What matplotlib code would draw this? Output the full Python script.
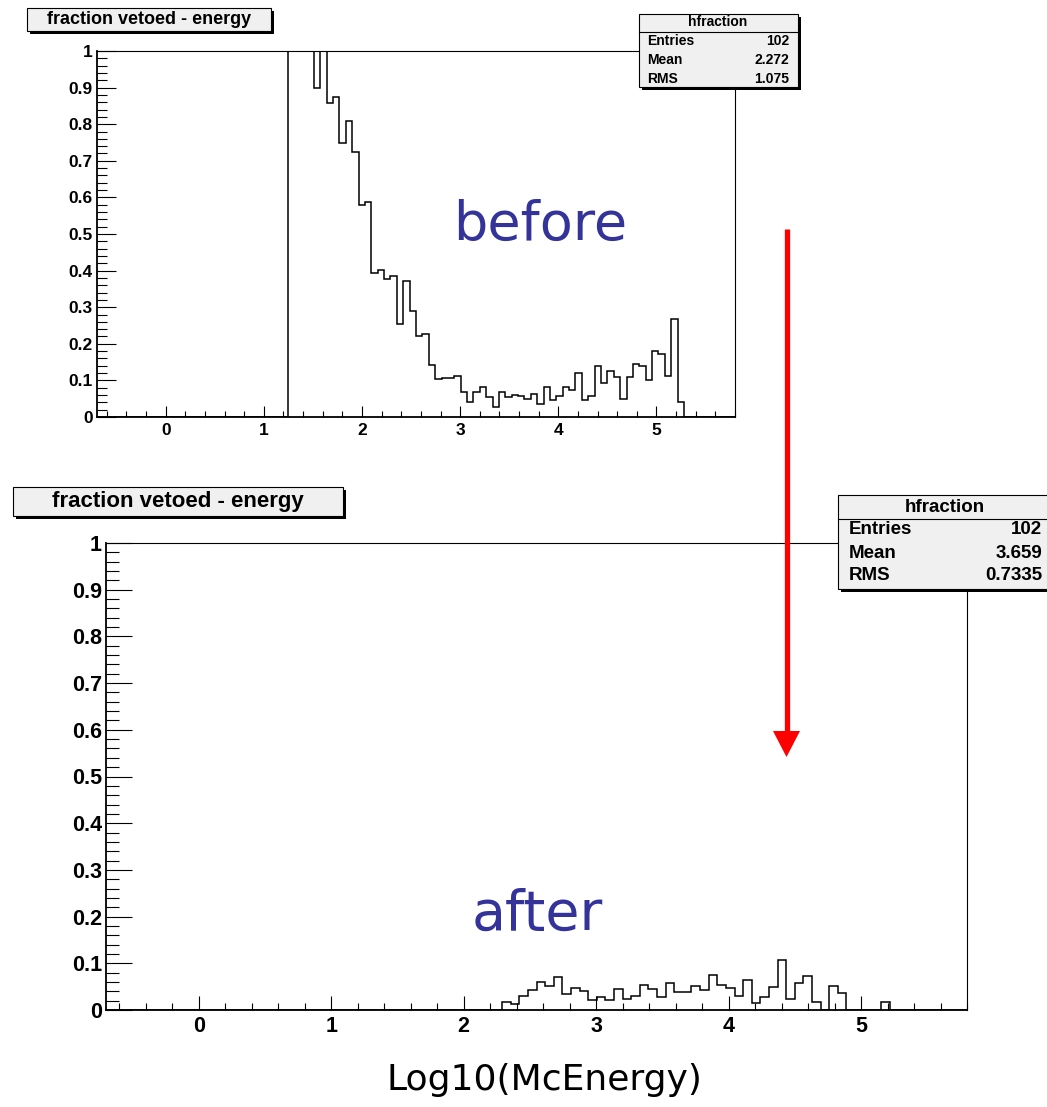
import numpy as np
import matplotlib
matplotlib.use("Agg")
import matplotlib.pyplot as plt
from matplotlib.patches import Rectangle, Polygon

# histogram binning (ROOT style: 100 bins from -0.7 to 5.8)
nbins = 100
xmin, xmax = -0.7, 5.8

# "before" histogram, first filled bin and the bin contents that follow
before_start = 30
before_vals = [1.0, 1.0, 1.0, 1.0, 0.90, 1.0, 0.859, 0.874, 0.750, 0.808,
               0.724, 0.580, 0.588, 0.394, 0.403, 0.376, 0.385, 0.253, 0.371, 0.290,
               0.222, 0.226, 0.141, 0.104, 0.106, 0.106, 0.113, 0.067, 0.040, 0.067,
               0.081, 0.054, 0.028, 0.067, 0.054, 0.060, 0.057, 0.048, 0.062, 0.035,
               0.082, 0.046, 0.058, 0.081, 0.075, 0.119, 0.046, 0.057, 0.139, 0.093,
               0.126, 0.108, 0.049, 0.109, 0.146, 0.140, 0.102, 0.180, 0.171, 0.113,
               0.267, 0.042]

# "after" histogram
after_start = 46
after_vals = [0.017, 0.012, 0.029, 0.043, 0.061, 0.052, 0.071, 0.034, 0.047, 0.041,
              0.022, 0.027, 0.021, 0.044, 0.024, 0.029, 0.054, 0.044, 0.027, 0.058,
              0.039, 0.038, 0.051, 0.043, 0.074, 0.054, 0.047, 0.029, 0.065, 0.014,
              0.027, 0.049, 0.108, 0.024, 0.058, 0.072, 0.017, 0.0, 0.051, 0.036,
              0.0, 0.0, 0.0, 0.0, 0.017]

hist_title = "fraction vetoed - energy"
stats_name = "hfraction"
before_stats = [("Entries", "102"), ("Mean", "2.272"), ("RMS", "1.075")]
after_stats = [("Entries", "102"), ("Mean", "3.659"), ("RMS", "0.7335")]
xticks = [0, 1, 2, 3, 4, 5]
yticks = [0, 0.1, 0.2, 0.3, 0.4, 0.5, 0.6, 0.7, 0.8, 0.9, 1]

W, H = 1047, 1107
edges = np.linspace(xmin, xmax, nbins + 1)


def full_hist(start, vals):
    h = np.zeros(nbins)
    h[start:start + len(vals)] = vals
    return h


def rect(l, t, r, b):
    # pixel box -> figure fraction [left, bottom, width, height]
    return [l / W, 1 - b / H, (r - l) / W, (b - t) / H]


def setup_axes(ax, fs, ymaj, ymin, xmaj, xmin_len):
    ax.set_xlim(xmin, xmax)
    ax.set_ylim(0, 1)
    ax.set_xticks(xticks)
    ax.set_xticks(np.arange(-0.6, 5.81, 0.2), minor=True)
    ax.set_yticks(yticks)
    ax.set_yticks(np.arange(0, 1.001, 0.02), minor=True)
    ax.set_yticklabels(["%g" % v for v in yticks])
    ax.tick_params(axis="y", which="major", direction="in", length=ymaj, width=0.8,
                   labelsize=fs, pad=3)
    ax.tick_params(axis="y", which="minor", direction="in", length=ymin, width=0.8)
    ax.tick_params(axis="x", which="major", direction="in", length=xmaj, width=0.8,
                   labelsize=fs, pad=4)
    ax.tick_params(axis="x", which="minor", direction="in", length=xmin_len, width=0.8)
    for lab in ax.get_xticklabels() + ax.get_yticklabels():
        lab.set_fontweight("bold")
    for s in ["top", "right"]:
        ax.spines[s].set_linewidth(0.8)
    for s in ["left", "bottom"]:
        ax.spines[s].set_linewidth(1.3)


plt.rcParams["font.family"] = ["Liberation Sans", "DejaVu Sans"]
fig = plt.figure(figsize=(W / 100, H / 100), dpi=100)

ax1 = fig.add_axes(rect(97, 51, 735, 417))
ax1.stairs(full_hist(before_start, before_vals), edges, color="black", linewidth=1.1)
setup_axes(ax1, 12.5, 13.7, 6.9, 7.9, 4.0)

ax2 = fig.add_axes(rect(106, 543, 967, 1010))
ax2.stairs(full_hist(after_start, after_vals), edges, color="black", linewidth=1.1)
setup_axes(ax2, 15.5, 18.6, 9.3, 10, 5)

# overlay in pixel coordinates for boxes, notes and the arrow
ov = fig.add_axes([0, 0, 1, 1], zorder=10)
ov.set_xlim(0, W)
ov.set_ylim(H, 0)
ov.axis("off")


def box(l, t, r, b, shadow=3):
    ov.add_patch(Rectangle((l + shadow, t + shadow), r - l, b - t, facecolor="black",
                           edgecolor="none"))
    ov.add_patch(Rectangle((l, t), r - l, b - t, facecolor="#f0f0f0",
                           edgecolor="black", linewidth=0.8))


# title boxes
box(27, 8, 271, 31)
ov.text(149, 20, hist_title, ha="center", va="center", fontsize=13, fontweight="bold")
box(13, 487, 343, 516)
ov.text(178, 502, hist_title, ha="center", va="center", fontsize=16, fontweight="bold")

# stats boxes
box(639, 14, 798, 87)
ov.plot([639, 798], [32, 32], color="black", linewidth=0.8)
ov.text(718, 22, stats_name, ha="center", va="center", fontsize=10, fontweight="bold")
for i, (k, v) in enumerate(before_stats):
    y = 41 + i * 19
    ov.text(647, y, k, ha="left", va="center", fontsize=10, fontweight="bold")
    ov.text(789, y, v, ha="right", va="center", fontsize=10, fontweight="bold")

box(838, 495, 1052, 589)
ov.plot([838, 1052], [519, 519], color="black", linewidth=0.8)
ov.text(945, 507, stats_name, ha="center", va="center", fontsize=13.5, fontweight="bold")
for i, (k, v) in enumerate(after_stats):
    y = 530 + i * 23
    ov.text(849, y, k, ha="left", va="center", fontsize=13.5, fontweight="bold")
    ov.text(1042, y, v, ha="right", va="center", fontsize=13.5, fontweight="bold")

# hand-written style notes
note_color = "#33339a"
ov.text(540, 225, "before", ha="center", va="center", fontsize=39, color=note_color,
        family="DejaVu Sans")
ov.text(537, 915, "after", ha="center", va="center", fontsize=40, color=note_color,
        family="DejaVu Sans")
ov.text(544, 1080, "Log10(McEnergy)", ha="center", va="center", fontsize=26,
        color="black", family="DejaVu Sans")

# red arrow
ov.plot([786.5, 786.5], [229, 733], color="red", linewidth=3.8, solid_capstyle="butt")
ov.add_patch(Polygon([(773, 731), (800, 731), (786.5, 757)], closed=True,
                     facecolor="red", edgecolor="none"))

fig.savefig("out.png", dpi=100)
